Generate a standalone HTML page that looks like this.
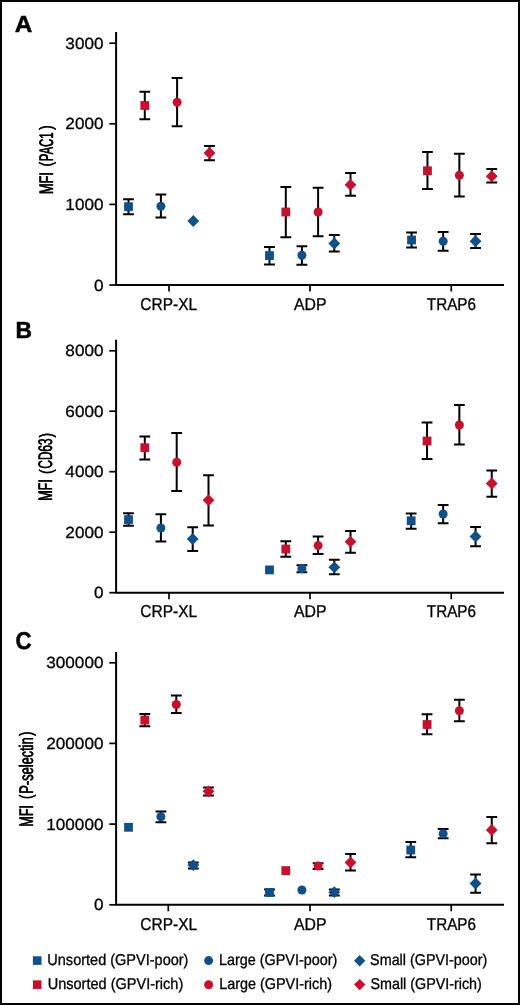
<!DOCTYPE html>
<html><head><meta charset="utf-8"><style>
html,body{margin:0;padding:0;background:#fff;width:520px;height:1005px;overflow:hidden}
svg{display:block;will-change:transform}
.t{font-family:"Liberation Sans", sans-serif;fill:#000;text-rendering:geometricPrecision}
</style></head><body>
<svg width="520" height="1005" viewBox="0 0 520 1005">
<rect x="1" y="1" width="518" height="1003" fill="none" stroke="#000" stroke-width="2"/>
<text transform="translate(14.74,31.75) scale(1.0389,1)" font-size="23.42" font-weight="bold" class="t" stroke="#000" stroke-width="0.48" stroke-linejoin="round">A</text>
<path d="M116.1 32V285H504" fill="none" stroke="#000" stroke-width="2.0"/>
<path d="M109.3 285H116" stroke="#000" stroke-width="1.7"/>
<text transform="translate(93.93,290.50) scale(1.0643,1)" font-size="16.10" class="t" stroke="#000" stroke-width="0.282">0</text>
<path d="M109.3 204.4H116" stroke="#000" stroke-width="1.7"/>
<text transform="translate(65.36,209.90) scale(1.0643,1)" font-size="16.10" class="t" stroke="#000" stroke-width="0.282">1000</text>
<path d="M109.3 123.8H116" stroke="#000" stroke-width="1.7"/>
<text transform="translate(65.36,129.30) scale(1.0643,1)" font-size="16.10" class="t" stroke="#000" stroke-width="0.282">2000</text>
<path d="M109.3 43.2H116" stroke="#000" stroke-width="1.7"/>
<text transform="translate(65.36,48.70) scale(1.0643,1)" font-size="16.10" class="t" stroke="#000" stroke-width="0.282">3000</text>
<path d="M169 285V291.5" stroke="#000" stroke-width="1.7"/>
<text transform="translate(140.33,309.70) scale(0.9001,1)" font-size="17.20" class="t" stroke="#000" stroke-width="0.333">CRP-XL</text>
<path d="M310 285V291.5" stroke="#000" stroke-width="1.7"/>
<text transform="translate(293.96,309.70) scale(0.9204,1)" font-size="17.20" class="t" stroke="#000" stroke-width="0.326">ADP</text>
<path d="M451.25 285V291.5" stroke="#000" stroke-width="1.7"/>
<text transform="translate(426.86,309.70) scale(0.8875,1)" font-size="17.20" class="t" stroke="#000" stroke-width="0.338">TRAP6</text>
<text transform="translate(52.50,194.13) rotate(-90) scale(0.6511,1)" font-size="19.60" class="t" stroke="#000" stroke-width="0.250">MFI</text><text transform="translate(52.50,193.83) rotate(-90) scale(0.6511,1)" font-size="19.60" class="t" stroke="#000" stroke-width="0.250">MFI</text>
<text transform="translate(51.50,166.56) rotate(-90) scale(0.7424,1)" font-size="17.96" class="t" stroke="#000" stroke-width="0.250">(</text><text transform="translate(51.50,166.26) rotate(-90) scale(0.7424,1)" font-size="17.96" class="t" stroke="#000" stroke-width="0.250">(</text>
<text transform="translate(52.50,161.21) rotate(-90) scale(0.5754,1)" font-size="19.60" class="t" stroke="#000" stroke-width="0.250">PAC1</text><text transform="translate(52.50,160.91) rotate(-90) scale(0.5754,1)" font-size="19.60" class="t" stroke="#000" stroke-width="0.250">PAC1</text>
<text transform="translate(51.50,130.08) rotate(-90) scale(0.7530,1)" font-size="17.96" class="t" stroke="#000" stroke-width="0.250">)</text><text transform="translate(51.50,129.78) rotate(-90) scale(0.7530,1)" font-size="17.96" class="t" stroke="#000" stroke-width="0.250">)</text>
<path d="M128.50 199.20V214.30M123.10 199.20H133.90M123.10 214.30H133.90" stroke="#000" stroke-width="2.0" fill="none"/>
<rect x="124.10" y="202.30" width="8.8" height="8.8" fill="#0f4f8a"/>
<path d="M144.80 91.80V119.20M139.40 91.80H150.20M139.40 119.20H150.20" stroke="#000" stroke-width="2.0" fill="none"/>
<rect x="140.40" y="101.10" width="8.8" height="8.8" fill="#c8102e"/>
<path d="M160.90 194.40V217.50M155.50 194.40H166.30M155.50 217.50H166.30" stroke="#000" stroke-width="2.0" fill="none"/>
<circle cx="160.90" cy="206.30" r="4.5" fill="#0f4f8a"/>
<path d="M177.10 78.00V126.20M171.70 78.00H182.50M171.70 126.20H182.50" stroke="#000" stroke-width="2.0" fill="none"/>
<circle cx="177.10" cy="102.30" r="4.5" fill="#c8102e"/>
<path d="M193.30 215.10L199.20 221.00L193.30 226.90L187.40 221.00Z" fill="#0f4f8a"/>
<path d="M209.50 146.00V160.20M204.10 146.00H214.90M204.10 160.20H214.90" stroke="#000" stroke-width="2.0" fill="none"/>
<path d="M209.50 147.10L215.40 153.00L209.50 158.90L203.60 153.00Z" fill="#c8102e"/>
<path d="M269.50 247.00V264.50M264.10 247.00H274.90M264.10 264.50H274.90" stroke="#000" stroke-width="2.0" fill="none"/>
<rect x="265.10" y="251.20" width="8.8" height="8.8" fill="#0f4f8a"/>
<path d="M285.80 187.00V237.30M280.40 187.00H291.20M280.40 237.30H291.20" stroke="#000" stroke-width="2.0" fill="none"/>
<rect x="281.40" y="207.60" width="8.8" height="8.8" fill="#c8102e"/>
<path d="M301.90 246.20V264.70M296.50 246.20H307.30M296.50 264.70H307.30" stroke="#000" stroke-width="2.0" fill="none"/>
<circle cx="301.90" cy="255.30" r="4.5" fill="#0f4f8a"/>
<path d="M318.10 187.70V236.20M312.70 187.70H323.50M312.70 236.20H323.50" stroke="#000" stroke-width="2.0" fill="none"/>
<circle cx="318.10" cy="212.00" r="4.5" fill="#c8102e"/>
<path d="M334.30 234.90V251.50M328.90 234.90H339.70M328.90 251.50H339.70" stroke="#000" stroke-width="2.0" fill="none"/>
<path d="M334.30 237.60L340.20 243.50L334.30 249.40L328.40 243.50Z" fill="#0f4f8a"/>
<path d="M350.50 173.00V195.80M345.10 173.00H355.90M345.10 195.80H355.90" stroke="#000" stroke-width="2.0" fill="none"/>
<path d="M350.50 178.90L356.40 184.80L350.50 190.70L344.60 184.80Z" fill="#c8102e"/>
<path d="M411.55 232.50V247.50M406.15 232.50H416.95M406.15 247.50H416.95" stroke="#000" stroke-width="2.0" fill="none"/>
<rect x="407.15" y="235.60" width="8.8" height="8.8" fill="#0f4f8a"/>
<path d="M427.45 152.00V189.00M422.05 152.00H432.85M422.05 189.00H432.85" stroke="#000" stroke-width="2.0" fill="none"/>
<rect x="423.05" y="166.35" width="8.8" height="8.8" fill="#c8102e"/>
<path d="M443.15 232.00V250.75M437.75 232.00H448.55M437.75 250.75H448.55" stroke="#000" stroke-width="2.0" fill="none"/>
<circle cx="443.15" cy="241.25" r="4.5" fill="#0f4f8a"/>
<path d="M459.35 153.75V196.50M453.95 153.75H464.75M453.95 196.50H464.75" stroke="#000" stroke-width="2.0" fill="none"/>
<circle cx="459.35" cy="175.25" r="4.5" fill="#c8102e"/>
<path d="M475.55 234.00V248.00M470.15 234.00H480.95M470.15 248.00H480.95" stroke="#000" stroke-width="2.0" fill="none"/>
<path d="M475.55 235.35L481.45 241.25L475.55 247.15L469.65 241.25Z" fill="#0f4f8a"/>
<path d="M491.75 169.00V182.50M486.35 169.00H497.15M486.35 182.50H497.15" stroke="#000" stroke-width="2.0" fill="none"/>
<path d="M491.75 170.35L497.65 176.25L491.75 182.15L485.85 176.25Z" fill="#c8102e"/>
<text transform="translate(15.51,338.25) scale(0.9791,1)" font-size="23.27" font-weight="bold" class="t" stroke="#000" stroke-width="0.51" stroke-linejoin="round">B</text>
<path d="M116.1 339.8V592.7H504" fill="none" stroke="#000" stroke-width="2.0"/>
<path d="M109.3 592.7H116" stroke="#000" stroke-width="1.7"/>
<text transform="translate(93.93,598.20) scale(1.0643,1)" font-size="16.10" class="t" stroke="#000" stroke-width="0.282">0</text>
<path d="M109.3 532.2H116" stroke="#000" stroke-width="1.7"/>
<text transform="translate(65.36,537.70) scale(1.0643,1)" font-size="16.10" class="t" stroke="#000" stroke-width="0.282">2000</text>
<path d="M109.3 471.7H116" stroke="#000" stroke-width="1.7"/>
<text transform="translate(65.36,477.20) scale(1.0643,1)" font-size="16.10" class="t" stroke="#000" stroke-width="0.282">4000</text>
<path d="M109.3 411.2H116" stroke="#000" stroke-width="1.7"/>
<text transform="translate(65.36,416.70) scale(1.0643,1)" font-size="16.10" class="t" stroke="#000" stroke-width="0.282">6000</text>
<path d="M109.3 350.8H116" stroke="#000" stroke-width="1.7"/>
<text transform="translate(65.36,356.30) scale(1.0643,1)" font-size="16.10" class="t" stroke="#000" stroke-width="0.282">8000</text>
<path d="M169 592.7V599.2" stroke="#000" stroke-width="1.7"/>
<text transform="translate(140.33,617.40) scale(0.9001,1)" font-size="17.20" class="t" stroke="#000" stroke-width="0.333">CRP-XL</text>
<path d="M310 592.7V599.2" stroke="#000" stroke-width="1.7"/>
<text transform="translate(293.96,617.40) scale(0.9204,1)" font-size="17.20" class="t" stroke="#000" stroke-width="0.326">ADP</text>
<path d="M451.25 592.7V599.2" stroke="#000" stroke-width="1.7"/>
<text transform="translate(426.86,617.40) scale(0.8875,1)" font-size="17.20" class="t" stroke="#000" stroke-width="0.338">TRAP6</text>
<text transform="translate(52.20,500.91) rotate(-90) scale(0.6380,1)" font-size="19.60" class="t" stroke="#000" stroke-width="0.250">MFI</text><text transform="translate(52.20,500.61) rotate(-90) scale(0.6380,1)" font-size="19.60" class="t" stroke="#000" stroke-width="0.250">MFI</text>
<text transform="translate(51.50,474.01) rotate(-90) scale(0.7424,1)" font-size="17.96" class="t" stroke="#000" stroke-width="0.250">(</text><text transform="translate(51.50,473.71) rotate(-90) scale(0.7424,1)" font-size="17.96" class="t" stroke="#000" stroke-width="0.250">(</text>
<text transform="translate(52.20,468.87) rotate(-90) scale(0.6040,1)" font-size="19.60" class="t" stroke="#000" stroke-width="0.250">CD63</text><text transform="translate(52.20,468.57) rotate(-90) scale(0.6040,1)" font-size="19.60" class="t" stroke="#000" stroke-width="0.250">CD63</text>
<text transform="translate(51.50,437.47) rotate(-90) scale(0.7318,1)" font-size="17.96" class="t" stroke="#000" stroke-width="0.250">)</text><text transform="translate(51.50,437.17) rotate(-90) scale(0.7318,1)" font-size="17.96" class="t" stroke="#000" stroke-width="0.250">)</text>
<path d="M128.50 513.20V525.80M123.10 513.20H133.90M123.10 525.80H133.90" stroke="#000" stroke-width="2.0" fill="none"/>
<rect x="124.10" y="515.20" width="8.8" height="8.8" fill="#0f4f8a"/>
<path d="M144.80 436.40V459.60M139.40 436.40H150.20M139.40 459.60H150.20" stroke="#000" stroke-width="2.0" fill="none"/>
<rect x="140.40" y="443.30" width="8.8" height="8.8" fill="#c8102e"/>
<path d="M160.90 514.20V541.40M155.50 514.20H166.30M155.50 541.40H166.30" stroke="#000" stroke-width="2.0" fill="none"/>
<circle cx="160.90" cy="528.00" r="4.5" fill="#0f4f8a"/>
<path d="M176.70 433.00V491.00M171.30 433.00H182.10M171.30 491.00H182.10" stroke="#000" stroke-width="2.0" fill="none"/>
<circle cx="176.70" cy="462.30" r="4.5" fill="#c8102e"/>
<path d="M192.70 527.20V551.10M187.30 527.20H198.10M187.30 551.10H198.10" stroke="#000" stroke-width="2.0" fill="none"/>
<path d="M192.70 533.10L198.60 539.00L192.70 544.90L186.80 539.00Z" fill="#0f4f8a"/>
<path d="M208.50 475.20V525.50M203.10 475.20H213.90M203.10 525.50H213.90" stroke="#000" stroke-width="2.0" fill="none"/>
<path d="M208.50 494.30L214.40 500.20L208.50 506.10L202.60 500.20Z" fill="#c8102e"/>
<rect x="265.10" y="565.50" width="8.8" height="8.8" fill="#0f4f8a"/>
<path d="M285.80 541.20V556.80M280.40 541.20H291.20M280.40 556.80H291.20" stroke="#000" stroke-width="2.0" fill="none"/>
<rect x="281.40" y="544.60" width="8.8" height="8.8" fill="#c8102e"/>
<path d="M301.90 565.20V572.20M296.50 565.20H307.30M296.50 572.20H307.30" stroke="#000" stroke-width="2.0" fill="none"/>
<circle cx="301.90" cy="568.70" r="4.5" fill="#0f4f8a"/>
<path d="M318.10 536.40V553.90M312.70 536.40H323.50M312.70 553.90H323.50" stroke="#000" stroke-width="2.0" fill="none"/>
<circle cx="318.10" cy="545.60" r="4.5" fill="#c8102e"/>
<path d="M334.30 559.70V574.30M328.90 559.70H339.70M328.90 574.30H339.70" stroke="#000" stroke-width="2.0" fill="none"/>
<path d="M334.30 561.40L340.20 567.30L334.30 573.20L328.40 567.30Z" fill="#0f4f8a"/>
<path d="M350.50 530.90V552.70M345.10 530.90H355.90M345.10 552.70H355.90" stroke="#000" stroke-width="2.0" fill="none"/>
<path d="M350.50 535.80L356.40 541.70L350.50 547.60L344.60 541.70Z" fill="#c8102e"/>
<path d="M411.15 513.50V528.75M405.75 513.50H416.55M405.75 528.75H416.55" stroke="#000" stroke-width="2.0" fill="none"/>
<rect x="406.75" y="516.35" width="8.8" height="8.8" fill="#0f4f8a"/>
<path d="M427.05 422.50V459.00M421.65 422.50H432.45M421.65 459.00H432.45" stroke="#000" stroke-width="2.0" fill="none"/>
<rect x="422.65" y="436.60" width="8.8" height="8.8" fill="#c8102e"/>
<path d="M443.15 505.00V523.25M437.75 505.00H448.55M437.75 523.25H448.55" stroke="#000" stroke-width="2.0" fill="none"/>
<circle cx="443.15" cy="514.00" r="4.5" fill="#0f4f8a"/>
<path d="M459.35 405.00V444.50M453.95 405.00H464.75M453.95 444.50H464.75" stroke="#000" stroke-width="2.0" fill="none"/>
<circle cx="459.35" cy="425.00" r="4.5" fill="#c8102e"/>
<path d="M475.55 527.00V546.25M470.15 527.00H480.95M470.15 546.25H480.95" stroke="#000" stroke-width="2.0" fill="none"/>
<path d="M475.55 530.60L481.45 536.50L475.55 542.40L469.65 536.50Z" fill="#0f4f8a"/>
<path d="M491.75 470.50V496.75M486.35 470.50H497.15M486.35 496.75H497.15" stroke="#000" stroke-width="2.0" fill="none"/>
<path d="M491.75 477.60L497.65 483.50L491.75 489.40L485.85 483.50Z" fill="#c8102e"/>
<text transform="translate(15.46,649.11) scale(0.9116,1)" font-size="24.45" font-weight="bold" class="t" stroke="#000" stroke-width="0.55" stroke-linejoin="round">C</text>
<path d="M116.1 651.9V904.8H504" fill="none" stroke="#000" stroke-width="2.0"/>
<path d="M109.3 904.8H116" stroke="#000" stroke-width="1.7"/>
<text transform="translate(93.93,910.30) scale(1.0643,1)" font-size="16.10" class="t" stroke="#000" stroke-width="0.282">0</text>
<path d="M109.3 824.1H116" stroke="#000" stroke-width="1.7"/>
<text transform="translate(46.29,829.60) scale(1.0643,1)" font-size="16.10" class="t" stroke="#000" stroke-width="0.282">100000</text>
<path d="M109.3 743.4H116" stroke="#000" stroke-width="1.7"/>
<text transform="translate(46.29,748.90) scale(1.0643,1)" font-size="16.10" class="t" stroke="#000" stroke-width="0.282">200000</text>
<path d="M109.3 662.8H116" stroke="#000" stroke-width="1.7"/>
<text transform="translate(46.29,668.30) scale(1.0643,1)" font-size="16.10" class="t" stroke="#000" stroke-width="0.282">300000</text>
<path d="M168.3 904.8V911.3" stroke="#000" stroke-width="1.7"/>
<text transform="translate(140.33,929.50) scale(0.9001,1)" font-size="17.20" class="t" stroke="#000" stroke-width="0.333">CRP-XL</text>
<path d="M310 904.8V911.3" stroke="#000" stroke-width="1.7"/>
<text transform="translate(293.96,929.50) scale(0.9204,1)" font-size="17.20" class="t" stroke="#000" stroke-width="0.326">ADP</text>
<path d="M451.25 904.8V911.3" stroke="#000" stroke-width="1.7"/>
<text transform="translate(426.86,929.50) scale(0.8875,1)" font-size="17.20" class="t" stroke="#000" stroke-width="0.338">TRAP6</text>
<text transform="translate(32.60,826.81) rotate(-90) scale(0.6380,1)" font-size="19.60" class="t" stroke="#000" stroke-width="0.250">MFI</text><text transform="translate(32.60,826.51) rotate(-90) scale(0.6380,1)" font-size="19.60" class="t" stroke="#000" stroke-width="0.250">MFI</text>
<text transform="translate(31.95,799.10) rotate(-90) scale(0.7318,1)" font-size="17.96" class="t" stroke="#000" stroke-width="0.250">(</text><text transform="translate(31.95,798.80) rotate(-90) scale(0.7318,1)" font-size="17.96" class="t" stroke="#000" stroke-width="0.250">(</text>
<text transform="translate(32.60,793.73) rotate(-90) scale(0.6536,1)" font-size="19.60" class="t" stroke="#000" stroke-width="0.250">P-selectin</text><text transform="translate(32.60,793.43) rotate(-90) scale(0.6536,1)" font-size="19.60" class="t" stroke="#000" stroke-width="0.250">P-selectin</text>
<text transform="translate(31.95,735.97) rotate(-90) scale(0.7318,1)" font-size="17.96" class="t" stroke="#000" stroke-width="0.250">)</text><text transform="translate(31.95,735.67) rotate(-90) scale(0.7318,1)" font-size="17.96" class="t" stroke="#000" stroke-width="0.250">)</text>
<rect x="124.10" y="822.90" width="8.8" height="8.8" fill="#0f4f8a"/>
<path d="M144.80 713.90V726.30M139.40 713.90H150.20M139.40 726.30H150.20" stroke="#000" stroke-width="2.0" fill="none"/>
<rect x="140.40" y="715.70" width="8.8" height="8.8" fill="#c8102e"/>
<path d="M160.90 811.40V822.20M155.50 811.40H166.30M155.50 822.20H166.30" stroke="#000" stroke-width="2.0" fill="none"/>
<circle cx="160.90" cy="816.80" r="4.5" fill="#0f4f8a"/>
<path d="M176.30 695.60V713.10M170.90 695.60H181.70M170.90 713.10H181.70" stroke="#000" stroke-width="2.0" fill="none"/>
<circle cx="176.30" cy="704.50" r="4.5" fill="#c8102e"/>
<path d="M193.30 862.40V868.40M187.90 862.40H198.70M187.90 868.40H198.70" stroke="#000" stroke-width="2.0" fill="none"/>
<path d="M193.30 859.20L199.20 865.10L193.30 871.00L187.40 865.10Z" fill="#0f4f8a"/>
<path d="M208.50 787.60V795.60M203.10 787.60H213.90M203.10 795.60H213.90" stroke="#000" stroke-width="2.0" fill="none"/>
<path d="M208.50 785.40L214.40 791.30L208.50 797.20L202.60 791.30Z" fill="#c8102e"/>
<path d="M269.50 889.50V895.40M264.10 889.50H274.90M264.10 895.40H274.90" stroke="#000" stroke-width="2.0" fill="none"/>
<rect x="265.10" y="888.00" width="8.8" height="8.8" fill="#0f4f8a"/>
<rect x="281.40" y="866.20" width="8.8" height="8.8" fill="#c8102e"/>
<circle cx="301.90" cy="890.00" r="4.5" fill="#0f4f8a"/>
<path d="M318.10 863.30V869.00M312.70 863.30H323.50M312.70 869.00H323.50" stroke="#000" stroke-width="2.0" fill="none"/>
<circle cx="318.10" cy="866.00" r="4.5" fill="#c8102e"/>
<path d="M334.30 889.50V895.40M328.90 889.50H339.70M328.90 895.40H339.70" stroke="#000" stroke-width="2.0" fill="none"/>
<path d="M334.30 886.30L340.20 892.20L334.30 898.10L328.40 892.20Z" fill="#0f4f8a"/>
<path d="M350.50 853.90V870.60M345.10 853.90H355.90M345.10 870.60H355.90" stroke="#000" stroke-width="2.0" fill="none"/>
<path d="M350.50 856.60L356.40 862.50L350.50 868.40L344.60 862.50Z" fill="#c8102e"/>
<path d="M410.75 842.00V857.25M405.35 842.00H416.15M405.35 857.25H416.15" stroke="#000" stroke-width="2.0" fill="none"/>
<rect x="406.35" y="845.60" width="8.8" height="8.8" fill="#0f4f8a"/>
<path d="M427.05 714.25V734.25M421.65 714.25H432.45M421.65 734.25H432.45" stroke="#000" stroke-width="2.0" fill="none"/>
<rect x="422.65" y="720.10" width="8.8" height="8.8" fill="#c8102e"/>
<path d="M443.15 829.00V838.25M437.75 829.00H448.55M437.75 838.25H448.55" stroke="#000" stroke-width="2.0" fill="none"/>
<circle cx="443.15" cy="833.75" r="4.5" fill="#0f4f8a"/>
<path d="M459.35 699.75V721.25M453.95 699.75H464.75M453.95 721.25H464.75" stroke="#000" stroke-width="2.0" fill="none"/>
<circle cx="459.35" cy="710.75" r="4.5" fill="#c8102e"/>
<path d="M475.55 874.50V892.75M470.15 874.50H480.95M470.15 892.75H480.95" stroke="#000" stroke-width="2.0" fill="none"/>
<path d="M475.55 877.60L481.45 883.50L475.55 889.40L469.65 883.50Z" fill="#0f4f8a"/>
<path d="M491.75 817.00V843.25M486.35 817.00H497.15M486.35 843.25H497.15" stroke="#000" stroke-width="2.0" fill="none"/>
<path d="M491.75 824.10L497.65 830.00L491.75 835.90L485.85 830.00Z" fill="#c8102e"/>
<rect x="32.90" y="956.30" width="8.6" height="8.6" fill="#0f4f8a"/>
<text transform="translate(47.32,965.10) scale(0.9250,1)" font-size="15.70" class="t" stroke="#000" stroke-width="0.324">Unsorted (GPVI-poor)</text>
<rect x="32.90" y="980.35" width="8.6" height="8.6" fill="#c8102e"/>
<text transform="translate(47.72,989.40) scale(0.9255,1)" font-size="15.70" class="t" stroke="#000" stroke-width="0.324">Unsorted (GPVI-rich)</text>
<circle cx="208.65" cy="960.60" r="4.5" fill="#0f4f8a"/>
<text transform="translate(218.96,965.10) scale(0.9176,1)" font-size="15.70" class="t" stroke="#000" stroke-width="0.327">Large (GPVI-poor)</text>
<circle cx="208.65" cy="984.70" r="4.5" fill="#c8102e"/>
<text transform="translate(219.16,989.40) scale(0.9177,1)" font-size="15.70" class="t" stroke="#000" stroke-width="0.327">Large (GPVI-rich)</text>
<path d="M359.70 955.10L365.40 960.80L359.70 966.50L354.00 960.80Z" fill="#0f4f8a"/>
<text transform="translate(370.10,965.10) scale(0.9151,1)" font-size="15.70" class="t" stroke="#000" stroke-width="0.328">Small (GPVI-poor)</text>
<path d="M359.70 978.90L365.40 984.60L359.70 990.30L354.00 984.60Z" fill="#c8102e"/>
<text transform="translate(370.51,989.40) scale(0.9118,1)" font-size="15.70" class="t" stroke="#000" stroke-width="0.329">Small (GPVI-rich)</text>
</svg>
</body></html>
